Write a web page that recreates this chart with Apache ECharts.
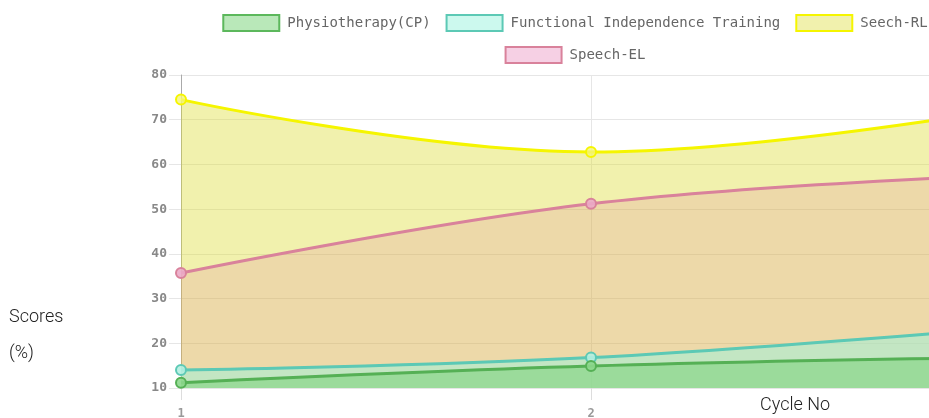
<!DOCTYPE html>
<html>
<head>
<meta charset="utf-8">
<style>
    html, body { margin: 0; padding: 0; overflow: hidden; background: #fff; }
    .chart { width: 1150px; height: 418px; }
</style>
<script src="https://cdn.jsdelivr.net/npm/echarts@6/dist/echarts.min.js"></script>
</head>
<body>
<div class="chart"></div>
<script>
// 数据
var cycles = ['1', '2', '3'];
var physio = [11.2, 14.9, 16.8];
var functional = [14.0, 16.8, 23.5];
var seechRL = [74.5, 62.8, 72.3];
var speechEL = [35.7, 51.2, 57.5];
var yTicks = [10, 20, 30, 40, 50, 60, 70, 80];

(function() {
    // 实例化对象
    var myChart = echarts.init(document.querySelector('.chart'));
    var mono = 'DejaVu Sans Mono';

    // 每条线的样式
    function makeSeries(name, data, line, fill, dot) {
        return {
            name: name,
            type: 'line',
            data: data,
            smooth: 0.4,
            symbol: 'circle',
            symbolSize: 10,
            lineStyle: { color: line, width: 3 },
            itemStyle: { color: dot, borderColor: line, borderWidth: 2 },
            areaStyle: { color: fill, opacity: 1, origin: 'start' }
        };
    }

    function legendItem(name, line, fill) {
        return { name: name, itemStyle: { color: fill, borderColor: line, borderWidth: 2 } };
    }

    var legendCommon = {
        left: 'center',
        icon: 'rect',
        itemWidth: 56,
        itemHeight: 16,
        itemGap: 15,
        textStyle: { fontFamily: mono, fontSize: 14, color: '#666', padding: [0, 0, 0, 3] }
    };

    var option = {
        animation: false,
        legend: [
            Object.assign({}, legendCommon, {
                top: 9,
                data: [
                    legendItem('Physiotherapy(CP)', '#5cb85c', 'rgba(115,210,115,0.5)'),
                    legendItem('Functional Independence Training', '#5cc9b5', 'rgba(153,243,222,0.5)'),
                    legendItem('Seech-RL', '#f5f500', 'rgba(220,220,50,0.4)')
                ]
            }),
            Object.assign({}, legendCommon, {
                top: 41,
                data: [legendItem('Speech-EL', '#d9829b', 'rgba(235,150,195,0.45)')]
            })
        ],
        grid: {
            top: 75,
            left: 181,
            right: 149,
            bottom: 30,
            containLabel: false,
            outerBoundsMode: 'none'
        },
        xAxis: {
            type: 'category',
            data: cycles,
            boundaryGap: false,
            axisLine: { show: false },
            axisTick: { show: true, length: 12, lineStyle: { color: '#ddd' } },
            axisLabel: { margin: 20, fontFamily: mono, fontWeight: 'bold', fontSize: 12, color: '#999' },
            splitLine: { show: true, lineStyle: { color: '#e6e6e6' } }
        },
        yAxis: {
            type: 'value',
            min: yTicks[0],
            max: yTicks[yTicks.length - 1],
            interval: 10,
            axisLine: { show: true, lineStyle: { color: '#aaa' } },
            axisTick: { show: true, length: 12, lineStyle: { color: '#e6e6e6' } },
            axisLabel: { margin: 14, fontFamily: mono, fontWeight: 'bold', fontSize: 13, color: '#888' },
            splitLine: { show: true, lineStyle: { color: '#e6e6e6' } }
        },
        graphic: [
            { type: 'text', left: 9, top: 308, style: { text: 'Scores', font: '300 18px Roboto', fill: '#222' } },
            { type: 'text', left: 9, top: 344, style: { text: '(%)', font: '300 18px Roboto', fill: '#222' } },
            { type: 'text', left: 760, top: 396, style: { text: 'Cycle No', font: '300 18px Roboto', fill: '#222' } }
        ],
        // 先画大的面积，小的盖在上面
        series: [
            makeSeries('Seech-RL', seechRL, '#f5f500', 'rgba(220,220,50,0.4)', 'rgba(245,245,120,0.8)'),
            makeSeries('Speech-EL', speechEL, '#d9829b', 'rgba(220,120,150,0.2)', 'rgba(235,170,200,0.9)'),
            makeSeries('Functional Independence Training', functional, '#5cc9b5', 'rgba(153,243,222,0.5)', 'rgba(180,240,225,0.9)'),
            makeSeries('Physiotherapy(CP)', physio, '#55b055', 'rgba(115,210,115,0.5)', 'rgba(140,215,140,0.9)')
        ]
    };
    // 把配置给实例对象
    myChart.setOption(option);
})();
</script>
</body>
</html>
